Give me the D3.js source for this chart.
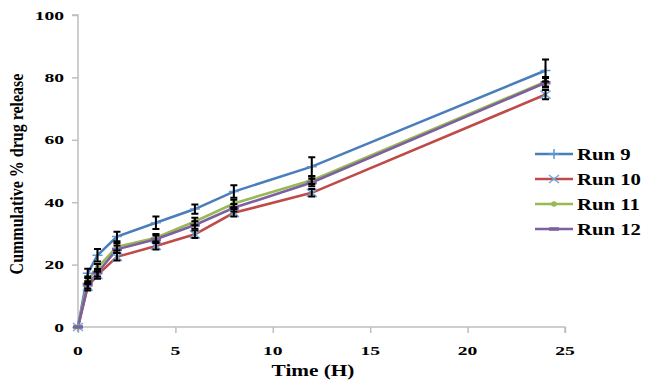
<!DOCTYPE html>
<html><head><meta charset="utf-8">
<script src="https://cdn.jsdelivr.net/npm/d3@7"></script>
<style>body{margin:0;background:#fff}svg{display:block}text{font-family:"Liberation Serif","Times New Roman",serif;font-weight:bold;fill:#000}</style>
</head><body><svg id="c" width="653" height="380"></svg>
<script>
const times = [0, 0.5, 1, 2, 4, 6, 8, 12, 24];
const run9  = [0, 17.2, 23, 29, 33.4, 37.8, 43.4, 51.4, 82.2];
const run10 = [0, 12.9, 16.7, 22.5, 26, 29.7, 36.6, 43, 74.5];
const run11 = [0, 15, 19, 25.7, 28.6, 33.8, 39.6, 47, 78.6];
const run12 = [0, 13.5, 17.4, 24.9, 28.1, 32.7, 38.2, 46.3, 78.3];
const err9  = [0, 1.5, 2, 1.5, 2, 1.5, 2, 3, 3.5];
const err10 = [0, 1.2, 1.2, 1.2, 1.2, 1.2, 1.2, 1.2, 1.5];
const err11 = [0, 1.2, 1.2, 1.2, 1.2, 1.2, 1.2, 1.2, 1.5];
const err12 = [0, 1.2, 1.2, 1.2, 1.2, 1.2, 1.2, 1.2, 1.5];
const seriesNames = ["Run 9", "Run 10", "Run 11", "Run 12"];
const xTicks = [0, 5, 10, 15, 20, 25];
const yTicks = [0, 20, 40, 60, 80, 100];
const xTitle = "Time (H)";
const yTitle = "Cummulative % drug release";

const series = [
  {name: seriesNames[0], vals: run9,  err: err9,  color: "#4a7ebb", marker: "plus"},
  {name: seriesNames[1], vals: run10, err: err10, color: "#be4b48", marker: "x"},
  {name: seriesNames[2], vals: run11, err: err11, color: "#98b954", marker: "dot"},
  {name: seriesNames[3], vals: run12, err: err12, color: "#7d60a0", marker: "dash"}
];

const svg = d3.select("#c");
const x = d3.scaleLinear().domain([0, 25]).range([78, 565]);
const y = d3.scaleLinear().domain([0, 100]).range([327, 15]);
const SX = 1.25;

function stext(px, py, str, size, anchor, sx) {
  svg.append("g").attr("transform", `translate(${px},${py}) scale(${sx},1)`)
    .append("text").attr("text-anchor", anchor).attr("font-size", size).text(str);
}

// axes
const axCol = "#bfbfbf";
const yAxis = svg.append("g").attr("transform", "translate(78,0)")
  .call(d3.axisLeft(y).tickValues(yTicks).tickSize(6).tickFormat(""));
const xAxis = svg.append("g").attr("transform", "translate(0,327)")
  .call(d3.axisBottom(x).tickValues(xTicks).tickSize(6).tickFormat(""));
[yAxis, xAxis].forEach(a => {
  a.selectAll("path").attr("stroke", axCol).attr("stroke-width", 1.5);
  a.selectAll("line").attr("stroke", axCol).attr("stroke-width", 1.5);
});
yAxis.select("path").attr("d", `M-6,${y(100)}H0V${y(0)}`);
xAxis.select("path").attr("d", `M${x(0)},0H${x(25)}V6`);

yTicks.forEach(t => stext(64, y(t) + 4.5, t, 13.5, "end", 1.45));
xTicks.forEach(t => stext(x(t), 355, t, 13.5, "middle", 1.45));
stext(313, 376, xTitle, 17, "middle", SX);
svg.append("text").attr("transform", `translate(23,174) rotate(-90) scale(1,1.2)`)
  .attr("text-anchor", "middle").attr("font-size", 16).text(yTitle);

const line = d3.line().x(d => x(d[0])).y(d => y(d[1]));
series.forEach(s => {
  svg.append("path").datum(times.map((t, i) => [t, s.vals[i]]))
    .attr("d", line).attr("fill", "none").attr("stroke", s.color).attr("stroke-width", 2.6);
});

function drawMarker(g, type, cx, cy, color) {
  if (type === "plus") {
    g.append("path").attr("d", `M${cx-5},${cy}H${cx+5}M${cx},${cy-5}V${cy+5}`)
      .attr("stroke", "#5b9bd5").attr("stroke-width", 1.5);
  } else if (type === "x") {
    g.append("path").attr("d", `M${cx-5},${cy-4}L${cx+5},${cy+4}M${cx-5},${cy+4}L${cx+5},${cy-4}`)
      .attr("stroke", "#6fa8dc").attr("stroke-width", 1.5);
  } else if (type === "dot") {
    g.append("circle").attr("cx", cx).attr("cy", cy).attr("r", 2.8).attr("fill", color);
  } else if (type === "dash") {
    g.append("path").attr("d", `M${cx-5},${cy}H${cx+5}`).attr("stroke", color).attr("stroke-width", 3.5);
  }
}
const mg = svg.append("g");
series.forEach(s => times.forEach((t, i) => drawMarker(mg, s.marker, x(t), y(s.vals[i]), s.color)));

// error bars
const eg = svg.append("g").attr("stroke", "#000").attr("stroke-width", 2);
series.forEach(s => times.forEach((t, i) => {
  if (!s.err[i]) return;
  const cx = x(t), y1 = y(s.vals[i] + s.err[i]), y2 = y(s.vals[i] - s.err[i]);
  eg.append("path").attr("d", `M${cx},${y1}V${y2}M${cx-3.5},${y1}H${cx+3.5}M${cx-3.5},${y2}H${cx+3.5}`);
}));

// legend
series.forEach((s, i) => {
  const ly = 154 + i * 25;
  svg.append("line").attr("x1", 535).attr("x2", 573).attr("y1", ly).attr("y2", ly)
    .attr("stroke", s.color).attr("stroke-width", 2.6);
  drawMarker(svg, s.marker, 554, ly, s.color);
  stext(577, ly + 6, s.name, 17, "start", 1.22);
});
</script></body></html>
